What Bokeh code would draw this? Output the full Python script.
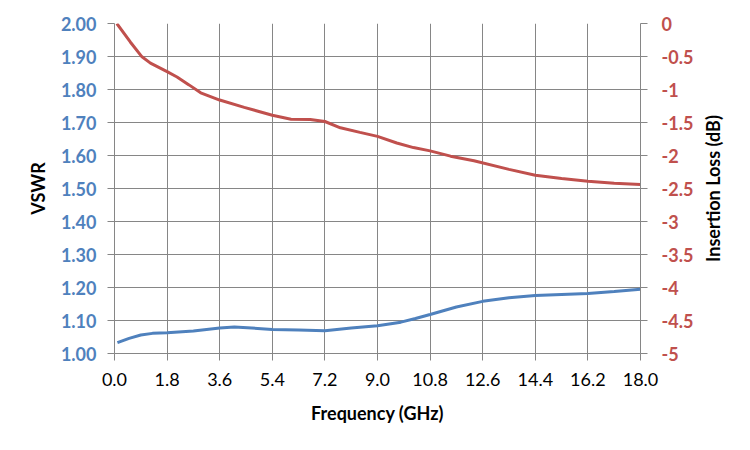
import math
from bokeh.plotting import figure
from bokeh.layouts import row
from bokeh.models import Range1d, LinearAxis, FixedTicker, Label
from bokeh.embed import file_html
from bokeh.resources import INLINE

# Data
freq_vswr = [0.1, 0.5, 0.9, 1.3, 1.8, 2.7, 3.6, 4.1, 4.7, 5.4, 6.3, 7.2, 8.1, 9.0, 9.8,
             10.3, 10.8, 11.7, 12.6, 13.5, 14.4, 15.3, 16.2, 17.1, 18.0]
vswr = [1.033, 1.046, 1.056, 1.061, 1.063, 1.068, 1.077, 1.080, 1.077, 1.073, 1.071, 1.069,
        1.077, 1.084, 1.095, 1.106, 1.118, 1.141, 1.158, 1.169, 1.176, 1.179, 1.182, 1.188, 1.195]

freq_il = [0.08, 0.54, 0.94, 1.23, 1.8, 2.14, 2.55, 2.95, 3.6, 4.44, 5.4, 6.04, 6.7,
           7.2, 7.73, 8.4, 9.0, 9.66, 10.23, 10.8, 11.5, 12.3, 13.5, 14.4, 15.3,
           16.2, 17.1, 18.0]
insertion_loss = [0.0, -0.28, -0.505, -0.60, -0.73, -0.81, -0.93, -1.05, -1.16, -1.27,
                  -1.39, -1.45, -1.455, -1.485, -1.58, -1.65, -1.71, -1.81, -1.88, -1.93,
                  -2.01, -2.08, -2.21, -2.30, -2.35, -2.39, -2.42, -2.44]

x_ticks = [0.0, 1.8, 3.6, 5.4, 7.2, 9.0, 10.8, 12.6, 14.4, 16.2, 18.0]
x_tick_labels = ["0.0", "1.8", "3.6", "5.4", "7.2", "9.0", "10.8", "12.6", "14.4", "16.2", "18.0"]
vswr_ticks = [1.0, 1.1, 1.2, 1.3, 1.4, 1.5, 1.6, 1.7, 1.8, 1.9, 2.0]
vswr_tick_labels = ["1.00", "1.10", "1.20", "1.30", "1.40", "1.50", "1.60", "1.70", "1.80", "1.90", "2.00"]
il_ticks = [0, -0.5, -1, -1.5, -2, -2.5, -3, -3.5, -4, -4.5, -5]
il_tick_labels = ["0", "-0.5", "-1", "-1.5", "-2", "-2.5", "-3", "-3.5", "-4", "-4.5", "-5"]

BLUE = "#4F81BD"
RED = "#C0504D"
GRID = "#868686"
FONT = "Lato"

il_range = Range1d(-5, 0)

p = figure(width=700, height=434, output_backend="svg", toolbar_location=None,
           x_range=Range1d(0, 18), y_range=Range1d(1.0, 2.0),
           min_border_left=114, min_border_right=60, min_border_top=23, min_border_bottom=81)
p.outline_line_color = None
p.background_fill_color = "white"
p.border_fill_color = "white"

p.extra_y_ranges = {"il": il_range}

p.line(freq_il, insertion_loss, y_range_name="il", line_color=RED, line_width=3)
p.line(freq_vswr, vswr, line_color=BLUE, line_width=3)

p.xgrid.grid_line_color = GRID
p.ygrid.grid_line_color = GRID
p.xgrid.ticker = FixedTicker(ticks=x_ticks)
p.ygrid.ticker = FixedTicker(ticks=vswr_ticks)

def style_axis(ax):
    ax.axis_line_color = GRID
    ax.major_tick_line_color = GRID
    ax.minor_tick_line_color = None
    ax.major_tick_in = 0
    ax.major_tick_out = 7
    ax.major_label_text_font = FONT
    ax.axis_label_text_font = FONT
    ax.axis_label_text_font_style = "bold"
    ax.axis_label_text_font_size = "18px"
    ax.axis_label_text_color = "black"
    ax.major_label_text_font_size = "18px"

xa = p.xaxis[0]
style_axis(xa)
xa.ticker = FixedTicker(ticks=x_ticks)
xa.major_label_overrides = {t: l for t, l in zip(x_ticks, x_tick_labels)}
xa.major_label_text_color = "black"
xa.major_label_standoff = 12
xa.axis_label = "Frequency (GHz)"
xa.axis_label_standoff = 13

ya = p.yaxis[0]
style_axis(ya)
ya.ticker = FixedTicker(ticks=vswr_ticks)
ya.major_label_overrides = {t: l for t, l in zip(vswr_ticks, vswr_tick_labels)}
ya.major_label_text_color = BLUE
ya.major_label_text_font_style = "bold"
ya.major_label_standoff = 11
ya.axis_label = "VSWR"
ya.axis_label_standoff = 9

ra = LinearAxis(y_range_name="il", ticker=FixedTicker(ticks=il_ticks))
style_axis(ra)
ra.major_label_overrides = {t: l for t, l in zip(il_ticks, il_tick_labels)}
ra.major_label_text_color = RED
ra.major_label_text_font_style = "bold"
ra.major_label_standoff = 14
p.add_layout(ra, "right")

# narrow companion panel holding the right-hand axis title (reads bottom-to-top)
t = figure(width=34, height=434, output_backend="svg", toolbar_location=None,
           x_range=Range1d(0, 34), y_range=il_range,
           x_axis_type=None, y_axis_type=None,
           min_border_left=0, min_border_right=0, min_border_top=23, min_border_bottom=81)
t.outline_line_color = None
t.grid.visible = False
t.add_layout(Label(x=12, y=-2.5, text="Insertion Loss (dB)", angle=math.pi / 2,
                   text_align="center", text_baseline="middle",
                   text_font=FONT, text_font_style="bold", text_font_size="18px",
                   text_color="black"))

layout = row(p, t, spacing=0)
open("out.html", "w").write(file_html(layout, INLINE))
